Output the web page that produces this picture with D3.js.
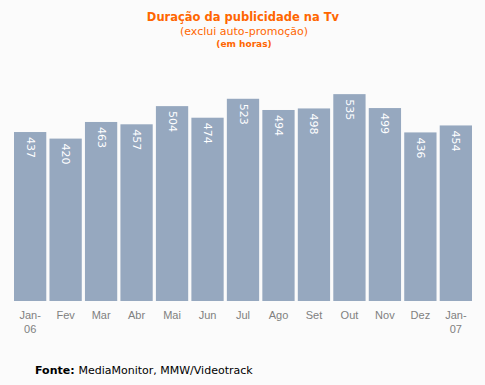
<!DOCTYPE html>
<html>
<head>
<meta charset="utf-8">
<script src="https://cdn.jsdelivr.net/npm/d3@7"></script>
<style>
    body { margin: 0; background: #fbfbfb; }
    svg { display: block; font-family: "DejaVu Sans", Verdana, sans-serif; }
</style>
</head>
<body>
<svg id="chart" width="485" height="385"></svg>
<script>
var months = ["Jan-06", "Fev", "Mar", "Abr", "Mai", "Jun", "Jul", "Ago", "Set", "Out", "Nov", "Dez", "Jan-07"],
    hours = [437, 420, 463, 457, 504, 474, 523, 494, 498, 535, 499, 436, 454];

var svg = d3.select("#chart"),
    x = d3.scaleBand().domain(months).range([14, 472]).paddingInner(0.09).paddingOuter(0),
    y = d3.scaleLinear().domain([0, 600]).range([301, 69]);

svg.append("rect")
    .attr("width", 485)
    .attr("height", 385)
    .attr("fill", "#fbfbfb");

// titulo
svg.append("text")
    .attr("x", 243).attr("y", 21)
    .attr("text-anchor", "middle")
    .attr("fill", "#ff6600")
    .attr("font-size", 11.5)
    .attr("font-weight", "bold")
    .text("Duração da publicidade na Tv");
svg.append("text")
    .attr("x", 244).attr("y", 35)
    .attr("text-anchor", "middle")
    .attr("fill", "#ff6600")
    .attr("font-size", 11)
    .text("(exclui auto-promoção)");
svg.append("text")
    .attr("x", 244).attr("y", 47)
    .attr("text-anchor", "middle")
    .attr("fill", "#ff6600")
    .attr("font-size", 9)
    .attr("font-weight", "bold")
    .text("(em horas)");

var bars = svg.append("g").selectAll("g")
    .data(hours)
    .enter().append("g");

bars.append("rect")
    .attr("x", function(d, i) { return x(months[i]); })
    .attr("y", function(d) { return y(d); })
    .attr("width", x.bandwidth())
    .attr("height", function(d) { return y(0) - y(d); })
    .attr("fill", "#96a8bf");

bars.append("text")
    .attr("transform", function(d, i) {
        return "translate(" + (x(months[i]) + x.bandwidth() / 2 - 3.5) + "," + (y(d) + 5) + ") rotate(90)";
    })
    .attr("fill", "white")
    .attr("font-size", 11)
    .text(function(d) { return d; });

// eixo x
var xAxis = svg.append("g")
    .attr("transform", "translate(0,301)")
    .call(d3.axisBottom(x).tickSize(0).tickPadding(10).tickFormat(""));
xAxis.select(".domain").remove();

xAxis.selectAll(".tick").each(function(d) {
    var t = d3.select(this).append("text")
        .attr("fill", "#808080")
        .attr("font-size", 11)
        .attr("text-anchor", "middle")
        .attr("y", 18);
    var parts = d.split("-");
    if (parts.length > 1) {
        t.append("tspan").attr("x", 0).text(parts[0] + "-");
        t.append("tspan").attr("x", 0).attr("dy", 14).text(parts[1]);
    } else {
        t.text(d);
    }
});

var fonte = svg.append("text")
    .attr("x", 35).attr("y", 374)
    .attr("font-size", 11)
    .attr("fill", "#000");
fonte.append("tspan").attr("font-weight", "bold").text("Fonte: ");
fonte.append("tspan").text("MediaMonitor, MMW/Videotrack");
</script>
</body>
</html>
